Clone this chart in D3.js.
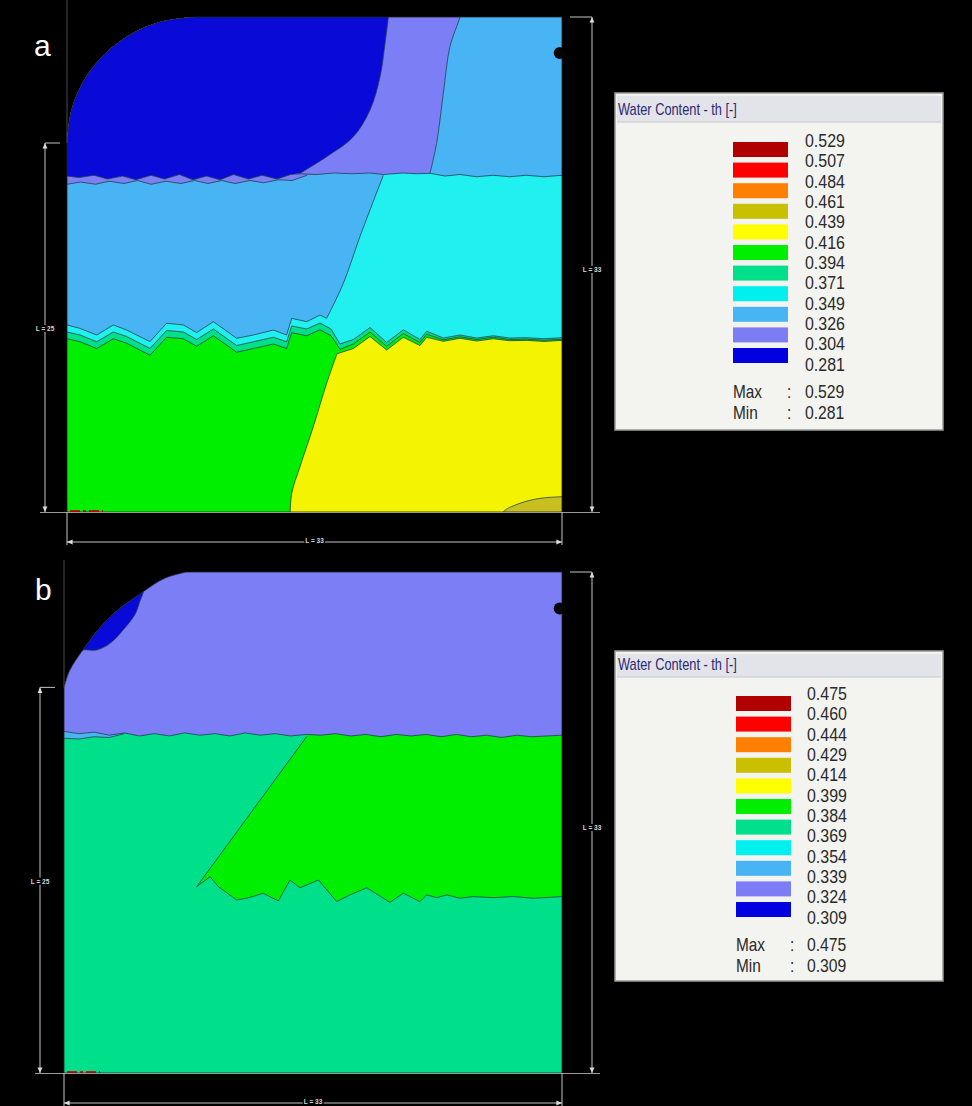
<!DOCTYPE html>
<html><head><meta charset="utf-8">
<script src="https://cdn.jsdelivr.net/npm/d3@7"></script>
<style>html,body{margin:0;padding:0;background:#000;}svg{display:block;}</style>
</head><body>
<svg id="c" width="972" height="1106"></svg>
<script>
// ---------------- DATA ----------------
const legendLevelsA = [0.529,0.507,0.484,0.461,0.439,0.416,0.394,0.371,0.349,0.326,0.304,0.281];
const legendLevelsB = [0.475,0.460,0.444,0.429,0.414,0.399,0.384,0.369,0.354,0.339,0.324,0.309];
const extremesA = [0.529, 0.281];
const extremesB = [0.475, 0.309];
const bandColors = ["#b00000","#ff0000","#ff8000","#c8c000","#ffff00","#00ee00","#00e08c","#00f0f0","#48b4f4","#7c7cf4","#0000e0"];
const domainColors = ["#b00000","#ff0000","#ff8000","#c8c020","#f4f400","#00ee00","#00e08a","#20f0f0","#48b4f4","#7b7ef5","#0a0ad8"];
const legendTitle = "Water Content - th [-]";
const panelNames = ["a","b"];
const dimLabelsA = ["L = 25","L = 33","L = 33"];
const dimLabelsB = ["L = 25","L = 33","L = 33"];

// domain outline (rounded top-left corner), in domain units
const outlineArcA = [[0,24.6],[0.29,26.77],[1.15,28.8],[2.52,30.54],[4.3,31.87],[6.37,32.71],[8.6,33]];
const outlineArcB = [[0,25.4],[0.37,26.5],[1.28,27.9],[3.0,30.0],[5.24,31.7],[6.7,32.6],[8.1,33]];

// ---- panel a contour lines ----
const wA = [[0,22.4],[0.8,22.3],[1.8,22.45],[2.7,22.2],[3.7,22.4],[4.6,22.15],[5.6,22.45],[6.5,22.2],[7.5,22.5],[8.4,22.15],[9.3,22.4],[10.2,22.15],[11.1,22.5],[12.1,22.2],[13,22.45],[14,22.2],[14.9,22.5],[15.6,22.55],[16.6,22.5],[17.8,22.6],[19,22.55],[20.2,22.6],[21.1,22.5],[22.4,22.6],[23.4,22.55],[24.2,22.58],[25.2,22.4],[26.2,22.5],[27.3,22.35],[28.4,22.45],[29.5,22.35],[30.6,22.45],[31.8,22.35],[33,22.45]];
const wvA = [[0,21.85],[0.9,22.0],[1.9,21.85],[2.8,22.05],[3.8,21.9],[4.7,22.1],[5.6,21.85],[6.6,22.05],[7.6,21.9],[8.5,22.1],[9.4,21.9],[10.3,22.1],[11.2,21.9],[12.2,22.1],[13.1,21.95],[14.1,22.15],[15.0,22.1],[16.0,22.45]];
const j1A = [[0,12.47],[0.87,12.24],[1.98,11.8],[3.09,12.47],[3.98,12.13],[5.53,11.36],[6.64,12.58],[7.76,12.47],[8.64,11.96],[9.76,12.69],[11.31,11.58],[12.42,11.8],[13.76,12.13],[14.64,11.8],[14.98,12.91],[15.98,12.69],[16.87,13.13],[17.31,12.91]];
const j2A = [[0,12.0],[0.87,11.8],[1.98,11.35],[3.09,12.0],[3.98,11.7],[5.53,10.9],[6.64,12.1],[7.76,12.0],[8.64,11.5],[9.76,12.2],[11.31,11.1],[12.42,11.35],[13.76,11.65],[14.64,11.35],[14.98,12.4],[15.98,12.2],[16.87,12.6],[17.6,12.2]];
const j3A = [[0,11.55],[0.87,11.35],[1.98,10.9],[3.09,11.55],[3.98,11.25],[5.53,10.45],[6.64,11.65],[7.76,11.55],[8.64,11.05],[9.76,11.75],[11.31,10.65],[12.42,10.9],[13.76,11.2],[14.64,10.9],[14.98,11.95],[15.98,11.75],[16.87,12.15],[17.6,11.75]];
const rA  = [[17.6,12.2],[18.2,11.2],[19.09,11.5],[20.2,12.3],[21.31,11.3],[22.42,12.15],[23.53,11.5],[23.98,12.05],[25.09,11.6],[26.2,11.8],[27.31,11.6],[28.42,11.75],[29.5,11.6],[30.64,11.62],[31.8,11.55],[33,11.62]];
const trA = [[17.6,11.75],[18.2,10.85],[19.09,11.2],[20.2,12.0],[21.31,11.05],[22.42,11.9],[23.53,11.3],[23.98,11.85],[25.09,11.48],[26.2,11.68],[27.31,11.5],[28.42,11.65],[29.5,11.5],[30.64,11.52],[31.8,11.45],[33,11.52]];
const ytA = [[18.0,10.55],[19.09,10.9],[20.2,11.7],[21.31,10.8],[22.42,11.65],[23.53,11.1],[23.98,11.65],[25.09,11.38],[26.2,11.58],[27.31,11.4],[28.42,11.55],[29.5,11.42],[30.64,11.44],[31.8,11.37],[33,11.44]];
const blueEdgeA   = [[21.45,33.5],[21.42,33.0],[21.2,31.24],[20.87,29.02],[20.2,26.8],[19.09,25.02],[17.31,23.69],[15.53,22.58]];
const violetEdgeA = [[26.3,33.5],[26.2,33],[25.53,31.02],[25.09,27.91],[24.64,24.58],[24.2,22.58]];
const cyanEdgeA   = [[21.09,22.45],[19.53,18.36],[18.42,15.24],[17.31,12.91]];
const yellowEdgeA = [[14.87,-0.5],[14.98,1.24],[15.53,3.02],[16.42,5.69],[17.31,8.58],[18.0,10.55]];
const oliveEdgeA  = [[28.9,-0.5],[29.09,0.02],[30.2,0.58],[31.53,0.91],[33,1.02],[33.5,1.05]];

// ---- panel b contour lines ----
const wB = [[0,22.5],[1,22.35],[2,22.45],[3,22.25],[4,22.4],[5,22.2],[6,22.35],[7,22.2],[8,22.4],[9,22.25],[10,22.35],[11,22.2],[12,22.4],[13,22.25],[14,22.35],[15,22.2],[16.08,22.3],[17,22.25],[18,22.35],[19,22.2],[20,22.3],[21,22.15],[22,22.3],[23,22.2],[24,22.3],[25,22.15],[26,22.3],[27,22.15],[28,22.25],[29,22.1],[30,22.25],[31,22.15],[32,22.2],[33,22.25]];
const wStripB = [[0,22.05],[1,22.0],[2,22.15],[3,22.1],[4,22.35]];
const slantB = [[8.79,12.27],[16.08,22.16]];
const jaggedB = [[8.79,12.27],[9.68,12.93],[10.23,12.27],[11.44,11.40],[12.1,11.51],[13.21,11.84],[14.2,11.33],[14.98,12.71],[15.64,12.2],[16.86,12.71],[18.07,11.29],[18.95,11.73],[20.06,12.2],[21.6,11.24],[22.49,11.84],[23.59,11.29],[24.03,11.73],[24.7,11.55],[25.36,11.73],[26.24,11.51],[27.12,11.62],[28.45,11.55],[29.78,11.62],[31.1,11.51],[32.98,11.62]];
const blobB = [[1.1,27.8],[1.28,27.87],[2.17,27.87],[3.05,28.3],[3.93,29.2],[4.7,30.2],[5.04,31.1],[5.26,31.7],[5.4,33.2]];

// ---------------- DRAW ----------------
const svg = d3.select("#c");
svg.append("rect").attr("width",972).attr("height",1106).attr("fill","#000");

function pathFrom(parts, sx, sz){
  let d = "";
  parts.forEach((p,i)=>{
    const gen = d3.line().x(q=>sx(q[0])).y(q=>sz(q[1]))
      .curve(p.curve ? d3.curveCatmullRom.alpha(0.5) : d3.curveLinear);
    let s = gen(p.pts);
    if(i>0) s = "L" + s.slice(1);
    d += s;
  });
  return d + "Z";
}
const lin = pts => ({pts, curve:false});
const crv = pts => ({pts, curve:true});
const rev = a => a.slice().reverse();

function drawPanel(cfg){
  const sx = d3.scaleLinear().domain([0,33]).range(cfg.xr);
  const sz = d3.scaleLinear().domain([0,33]).range(cfg.zr);
  const g = svg.append("g");
  const outline = pathFrom([crv(cfg.arc), lin([[33,33],[33,0],[0,0]])], sx, sz);
  const clipId = "clip"+cfg.name;
  svg.append("clipPath").attr("id",clipId).append("path").attr("d",outline);
  const cg = g.append("g").attr("clip-path",`url(#${clipId})`);
  cg.append("path").attr("d",outline).attr("fill",domainColors[cfg.base]);
  cfg.layers.forEach(L=>{
    cg.append("path").attr("d",pathFrom(L.parts,sx,sz)).attr("fill",domainColors[L.band]);
  });
  const lineGen = d3.line().x(q=>sx(q[0])).y(q=>sz(q[1]));
  cfg.strokes.forEach(s=>{
    cg.append("path").attr("d",lineGen.curve(s.curve?d3.curveCatmullRom.alpha(0.5):d3.curveLinear)(s.pts))
      .attr("fill","none").attr("stroke","#1e3c46").attr("stroke-width",0.9).attr("stroke-opacity",0.85);
  });
  cg.append("line").attr("x1",sx(0.2)).attr("x2",sx(2.4)).attr("y1",sz(0)-1).attr("y2",sz(0)-1)
    .attr("stroke","#d01010").attr("stroke-width",2).attr("stroke-dasharray","10,3,3,3");
  g.append("path").attr("d",outline).attr("fill","none").attr("stroke","#202020").attr("stroke-width",0.8);
  g.append("circle").attr("cx",sx(32.85)).attr("cy",sz(30.6)).attr("r",6).attr("fill","#050505");
  return {sx,sz};
}

const A = drawPanel({
  name:"A", xr:[67,562], zr:[512,17], arc:outlineArcA, base:5,
  layers:[
    {band:4, parts:[crv(yellowEdgeA), lin(ytA), lin([[33.5,11.44],[33.5,-0.5]])]},
    {band:3, parts:[crv(oliveEdgeA), lin([[33.5,-0.5]])]},
    {band:6, parts:[lin([[-0.5,11.55]]), lin(j3A), lin(trA), lin([[33.5,11.52],[33.5,34],[-0.5,34]])]},
    {band:7, parts:[lin([[-0.5,12.0]]), lin(j2A), lin(rA), lin([[33.5,11.62],[33.5,34],[-0.5,34]])]},
    {band:8, parts:[lin([[-0.5,12.47]]), lin(j1A), crv(rev(cyanEdgeA)), lin([[21.3,34],[-0.5,34]])]},
    {band:8, parts:[lin([[-0.5,22.4]]), lin(wA), lin([[33.5,22.45],[33.5,34],[-0.5,34]])]},
    {band:9, parts:[lin([[-0.5,21.85]]), lin(wvA), lin(wA.filter(p=>p[0]>16&&p[0]<24.2)), crv(rev(violetEdgeA)), lin([[-0.5,34]])]},
    {band:10, parts:[lin([[-0.5,34]]), crv(blueEdgeA), lin(rev(wA.filter(p=>p[0]<15.53))), lin([[-0.5,22.4]])]}
  ],
  strokes:[
    {pts:wA},{pts:wvA},{pts:j1A},{pts:j2A},{pts:j3A},{pts:rA},{pts:trA},{pts:ytA},
    {pts:violetEdgeA,curve:true},{pts:cyanEdgeA,curve:true},{pts:blueEdgeA,curve:true},
    {pts:yellowEdgeA,curve:true},{pts:oliveEdgeA,curve:true}
  ]
});

const B = drawPanel({
  name:"B", xr:[64,562], zr:[1073,572], arc:outlineArcB, base:6,
  layers:[
    {band:5, parts:[lin(slantB), lin([[16.08,23.5],[33.5,23.5],[33.5,11.62]]), lin(rev(jaggedB))]},
    {band:8, parts:[lin([[-0.5,22.05]]), lin(wStripB), lin([[4.5,22.4],[4.5,34],[-0.5,34]])]},
    {band:9, parts:[lin([[-0.5,22.5]]), lin(wB), lin([[33.5,22.25],[33.5,34],[-0.5,34]])]},
    {band:10, parts:[crv(blobB), lin([[5.6,34],[-0.5,34],[-0.5,27.8]])]}
  ],
  strokes:[{pts:wB},{pts:wStripB},{pts:slantB},{pts:jaggedB},{pts:blobB,curve:true}]
});

// frame / dimension lines
const dimColor = "#c4c4c4";
function ln(x1,y1,x2,y2,c,w){svg.append("line").attr("x1",x1).attr("y1",y1).attr("x2",x2).attr("y2",y2).attr("stroke",c||dimColor).attr("stroke-width",w||1);}
function arrow(x,y,dir){
  const s=3.5; let p;
  if(dir==="up") p=[[x,y],[x-s*0.7,y+s*1.6],[x+s*0.7,y+s*1.6]];
  if(dir==="down") p=[[x,y],[x-s*0.7,y-s*1.6],[x+s*0.7,y-s*1.6]];
  if(dir==="left") p=[[x,y],[x+s*1.6,y-s*0.7],[x+s*1.6,y+s*0.7]];
  if(dir==="right") p=[[x,y],[x-s*1.6,y-s*0.7],[x-s*1.6,y+s*0.7]];
  svg.append("polygon").attr("points",p.map(q=>q.join(",")).join(" ")).attr("fill","#ddd");
}
function dimText(x,y,t){
  const tx = svg.append("text").attr("x",x).attr("y",y).attr("text-anchor","middle").attr("dominant-baseline","central")
    .attr("font-family","Liberation Sans, Arial, sans-serif").attr("font-size",6.5).attr("font-weight","bold").attr("fill","#d8d8d8").text(t);
  const bb = tx.node().getBBox();
  svg.insert("rect", () => tx.node()).attr("x",bb.x-1).attr("y",bb.y).attr("width",bb.width+2).attr("height",bb.height).attr("fill","#000");
}
function dims(sx,sz,cfg,labels){
  const x0=sx(0), x1=sx(33), yb=sz(0), yt=sz(33), yl=sz(cfg.leftH);
  ln(x0, 0+cfg.top0, x0, yl, "#4a4a4a", 1);
  ln(cfg.lx, yl, cfg.lx, yb); ln(cfg.lx, yl, cfg.lx+15, yl);
  arrow(cfg.lx, yl, "up"); arrow(cfg.lx, yb, "down");
  ln(cfg.lx-5, yb+0.5, 600, yb+0.5, "#9a9a9a", 1);
  ln(x0, cfg.by, x1, cfg.by); ln(x0, yb, x0, cfg.by+3); ln(x1, yb, x1, cfg.by+3);
  arrow(x0, cfg.by, "left"); arrow(x1, cfg.by, "right");
  ln(592, yt, 592, yb); ln(570, yt, 592, yt);
  arrow(592, yt, "up"); arrow(592, yb, "down");
  dimText(cfg.lx, (yl+yb)/2+1, labels[0]);
  dimText((x0+x1)/2, cfg.by-2, labels[1]);
  dimText(592, (yt+yb)/2+5, labels[2]);
}
dims(A.sx, A.sz, {leftH:24.6, lx:45, by:542, top0:0}, dimLabelsA);
dims(B.sx, B.sz, {leftH:25.4, lx:40, by:1103, top0:560}, dimLabelsB);

// panel letters
svg.append("text").attr("x",34).attr("y",56).attr("fill","#fff").attr("font-family","Liberation Sans, Arial, sans-serif").attr("font-size",30).text(panelNames[0]);
svg.append("text").attr("x",35).attr("y",600).attr("fill","#fff").attr("font-family","Liberation Sans, Arial, sans-serif").attr("font-size",30).text(panelNames[1]);

// legends
const numFont = "Liberation Sans, Arial, sans-serif";
function condText(g, x, y, t, size, fill, sx){
  g.append("text").attr("transform",`translate(${x},${y}) scale(${sx},1)`).attr("font-family",numFont)
    .attr("font-size",size).attr("fill",fill).text(t);
}
function legend(cfg, levels, extremes){
  const g = svg.append("g");
  g.append("rect").attr("x",615).attr("y",cfg.y0).attr("width",328).attr("height",cfg.h).attr("fill","#f3f3f0").attr("stroke","#9a9a9a").attr("stroke-width",1.5);
  g.append("rect").attr("x",617).attr("y",cfg.y0+3).attr("width",324).attr("height",cfg.th).attr("fill","#e3e3ea");
  g.append("line").attr("x1",617).attr("x2",941).attr("y1",cfg.y0+3+cfg.th).attr("y2",cfg.y0+3+cfg.th).attr("stroke","#c8c8cc");
  condText(g, 618, cfg.y0+3+cfg.th-7, legendTitle, 16, "#2a2a72", 0.8);
  const ys = d3.scaleLinear().domain([0,10]).range([cfg.sw0, cfg.sw0+206]);
  const yl = d3.scaleLinear().domain([0,11]).range([cfg.lb0, cfg.lb0+224]);
  bandColors.forEach((c,i)=>{
    g.append("rect").attr("x",cfg.sx).attr("y",ys(i)).attr("width",55).attr("height",15).attr("fill",c);
  });
  levels.forEach((v,i)=>{
    condText(g, cfg.lx, yl(i)+6.8, d3.format(".3f")(v), 19, "#2a2a2a", 0.84);
  });
  ["Max","Min"].forEach((t,i)=>{
    const y = cfg.mm0 + i*20.4 + 6.3;
    condText(g, cfg.sx, y, t, 17.5, "#2a2a2a", 0.88);
    condText(g, cfg.sx+54, y, ":", 17.5, "#2a2a2a", 0.88);
    condText(g, cfg.lx, y, d3.format(".3f")(extremes[i]), 17.5, "#2a2a2a", 0.9);
  });
}
legend({y0:93, h:337, th:26, sx:733, sw0:142, lx:805, lb0:140, mm0:392}, legendLevelsA, extremesA);
legend({y0:651, h:330, th:23, sx:736, sw0:696, lx:807, lb0:693, mm0:945}, legendLevelsB, extremesB);
</script>
</body></html>
